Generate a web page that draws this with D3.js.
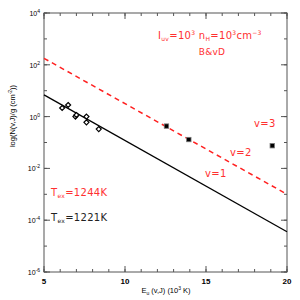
<!DOCTYPE html>
<html>
<head>
<meta charset="utf-8">
<script src="https://cdn.jsdelivr.net/npm/d3@7"></script>
<style>
  body { margin: 0; background: #fff; }
  svg { display: block; font-family: "Liberation Sans", Arial, sans-serif; }
  .note { font-family: "DejaVu Sans", sans-serif; letter-spacing: 0.3px; }
</style>
</head>
<body>
<div id="chart"></div>
<script>
// observed points (E_u in 10^3 K, N/g in cm^-2)
const diamondX = [6.12, 6.49, 6.94, 7.0, 7.62, 7.62, 8.38];
const diamondY = [2.15, 2.8, 1.0, 1.15, 1.0, 0.6, 0.33];
const squareX = [12.56, 13.94, 19.09];
const squareY = [0.43, 0.13, 0.075];
// fit lines, end points
const fitBlackX = [5, 20];
const fitBlackY = [6.9, 3.6e-5];
const fitRedX = [5, 20];
const fitRedY = [178, 1.0e-3];
const xTicks = [5, 10, 15, 20];
const yTicks = [1e-6, 1e-4, 1e-2, 1, 1e2, 1e4];
const yExp = ["-6", "-4", "-2", "0", "2", "4"];

const margin = {top: 13, right: 13, bottom: 28, left: 44};
const W = 300, H = 300;
const visWidth = W - margin.left - margin.right;
const visHeight = H - margin.top - margin.bottom;

const svg = d3.select("#chart").append("svg")
  .attr("width", W).attr("height", H);

const g = svg.append("g")
  .attr("transform", `translate(${margin.left}, ${margin.top})`);

const x = d3.scaleLinear().domain([5, 20]).range([0, visWidth]);
const y = d3.scaleLog().domain([1e-6, 1e4]).range([visHeight, 0]);

const axisColor = "#555";

// minor ticks
const xMinor = d3.range(5, 21, 1);
const yMinor = d3.range(-6, 5).map(e => Math.pow(10, e));

function ticksAlong(axis, big) {
  const len = big ? 6 : 3;
  if (axis === "bottom" || axis === "top") {
    const vals = big ? xTicks : xMinor;
    g.append("g").selectAll("line").data(vals).join("line")
      .attr("x1", d => x(d)).attr("x2", d => x(d))
      .attr("y1", axis === "bottom" ? visHeight : 0)
      .attr("y2", axis === "bottom" ? visHeight - len : len)
      .attr("stroke", axisColor).attr("stroke-width", 1);
  } else {
    const vals = big ? yTicks : yMinor;
    g.append("g").selectAll("line").data(vals).join("line")
      .attr("y1", d => y(d)).attr("y2", d => y(d))
      .attr("x1", axis === "left" ? 0 : visWidth)
      .attr("x2", axis === "left" ? len : visWidth - len)
      .attr("stroke", axisColor).attr("stroke-width", 1);
  }
}
["bottom", "top", "left", "right"].forEach(a => { ticksAlong(a, false); ticksAlong(a, true); });

g.append("rect")
  .attr("width", visWidth).attr("height", visHeight)
  .attr("fill", "none").attr("stroke", axisColor).attr("stroke-width", 1);

// tick labels
g.append("g").selectAll("text").data(xTicks).join("text")
  .attr("x", d => x(d)).attr("y", visHeight + 12)
  .attr("text-anchor", "middle").attr("font-size", 8).attr("font-weight", "bold")
  .text(d => d);

const yl = g.append("g").selectAll("text").data(yTicks).join("text")
  .attr("x", -4).attr("y", d => y(d) + 3)
  .attr("text-anchor", "end").attr("font-size", 7);
yl.append("tspan").text("10");
yl.append("tspan").attr("font-size", 5).attr("dy", -3).text((d, i) => yExp[i]);

// axis titles
const xt = svg.append("text").attr("x", 166).attr("y", 293)
  .attr("text-anchor", "middle").attr("font-size", 7.5);
xt.append("tspan").text("E");
xt.append("tspan").attr("font-size", 5).attr("dy", 1.5).text("u");
xt.append("tspan").attr("dy", -1.5).text(" (v,J) (10");
xt.append("tspan").attr("font-size", 5).attr("dy", -3).text("3");
xt.append("tspan").attr("dy", 3).text(" K)");

const ytl = svg.append("text")
  .attr("transform", "translate(15, 116) rotate(-90)")
  .attr("text-anchor", "middle").attr("font-size", 7.5);
ytl.append("tspan").text("log(N(v,J)/g (cm");
ytl.append("tspan").attr("font-size", 5).attr("dy", -3).text("-2");
ytl.append("tspan").attr("dy", 3).text("))");

// fit lines
const line = d3.line().x(d => x(d[0])).y(d => y(d[1]));
g.append("path")
  .datum(fitRedX.map((v, i) => [v, fitRedY[i]]))
  .attr("d", line).attr("fill", "none")
  .attr("stroke", "#ff2020").attr("stroke-width", 1.5).attr("stroke-dasharray", "5,4");
g.append("path")
  .datum(fitBlackX.map((v, i) => [v, fitBlackY[i]]))
  .attr("d", line).attr("fill", "none")
  .attr("stroke", "#000").attr("stroke-width", 1.3);

// diamonds
g.append("g").selectAll("path").data(diamondX).join("path")
  .attr("d", d3.symbol(d3.symbolDiamond2, 16))
  .attr("transform", (d, i) => `translate(${x(d)}, ${y(diamondY[i])})`)
  .attr("fill", "#fff").attr("stroke", "#000").attr("stroke-width", 1.2);

// filled squares
g.append("g").selectAll("rect").data(squareX).join("rect")
  .attr("x", d => x(d) - 2.2).attr("y", (d, i) => y(squareY[i]) - 2.2)
  .attr("width", 4.4).attr("height", 4.4)
  .attr("fill", "#000").attr("stroke", "#777").attr("stroke-width", 0.8);

// annotations
const red = "#ff3030";
const t1 = svg.append("text").attr("class", "note").attr("x", 158).attr("y", 39)
  .attr("font-size", 10).attr("fill", red);
t1.append("tspan").text("I");
t1.append("tspan").attr("font-size", 6).attr("dy", 2).text("uv");
t1.append("tspan").attr("dy", -2).text("=10");
t1.append("tspan").attr("font-size", 6).attr("dy", -4).text("3");
t1.append("tspan").attr("dy", 4).text(" n");
t1.append("tspan").attr("font-size", 6).attr("dy", 2).text("H");
t1.append("tspan").attr("dy", -2).text("=10");
t1.append("tspan").attr("font-size", 6).attr("dy", -4).text("3");
t1.append("tspan").attr("dy", 4).text("cm");
t1.append("tspan").attr("font-size", 6).attr("dy", -4).text("\u22123");

svg.append("text").attr("class", "note").attr("x", 212).attr("y", 55).attr("text-anchor", "middle")
  .attr("font-size", 9).attr("fill", red).text("B&vD");

[["v=3", 254, 127], ["v=2", 230, 156], ["v=1", 205, 177]].forEach(d => {
  svg.append("text").attr("class", "note").attr("x", d[1]).attr("y", d[2])
    .attr("font-size", 10).attr("fill", red).text(d[0]);
});

function tex(label, yy, col) {
  const t = svg.append("text").attr("class", "note").attr("x", 51).attr("y", yy)
    .attr("font-size", 10).attr("fill", col);
  t.append("tspan").text("T");
  t.append("tspan").attr("font-size", 6).attr("dy", 2).text("ex");
  t.append("tspan").attr("dy", -2).text("=" + label);
}
tex("1244K", 196, red);
tex("1221K", 221, "#222");
</script>
</body>
</html>
